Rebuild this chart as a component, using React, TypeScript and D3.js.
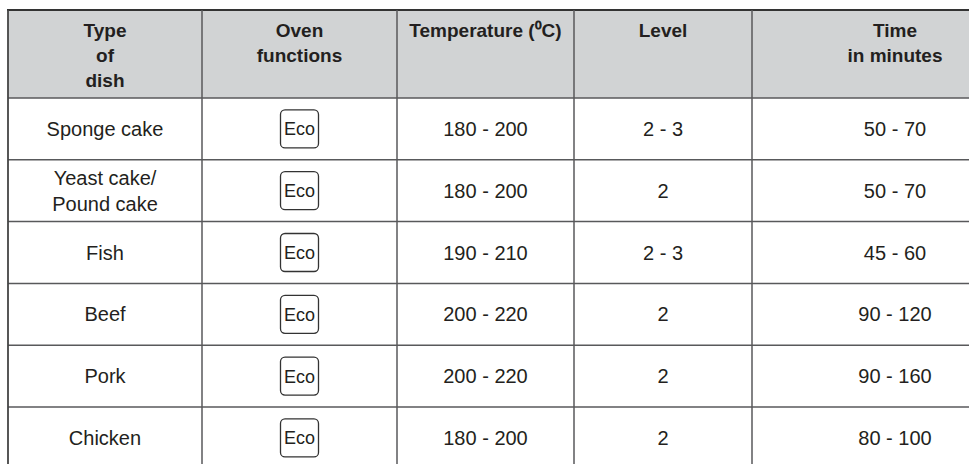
import React from "react";
import * as d3 from "d3";

const headers: string[][] = [
  ["Type", "of", "dish"],
  ["Oven", "functions"],
  ["Temperature (\u2070C)"],
  ["Level"],
  ["Time", "in minutes"],
];
const dishes: string[][] = [
  ["Sponge cake"],
  ["Yeast cake/", "Pound cake"],
  ["Fish"],
  ["Beef"],
  ["Pork"],
  ["Chicken"],
];
const ovenFunctions: string[] = ["Eco", "Eco", "Eco", "Eco", "Eco", "Eco"];
const temperatures: string[] = ["180 - 200", "180 - 200", "190 - 210", "200 - 220", "200 - 220", "180 - 200"];
const levels: string[] = ["2 - 3", "2", "2 - 3", "2", "2", "2"];
const times: string[] = ["50 - 70", "50 - 70", "45 - 60", "90 - 120", "90 - 160", "80 - 100"];

const W = 969;
const H = 464;
const colEdges = [8, 202, 397, 574, 752, 1038];
const headTop = 10;
const headBottom = 98;
const rowH = 61.8;
const FONT = "'Liberation Sans', Arial, Helvetica, sans-serif";
const TEXT = "#231f20";
const LINE = "#58595b";

export default function App() {
  const n = dishes.length;
  const y = d3
    .scaleBand<number>()
    .domain(d3.range(n))
    .range([headBottom, headBottom + rowH * n])
    .padding(0);
  const colCenter = (i: number) => (colEdges[i] + colEdges[i + 1]) / 2;
  const rows = d3.range(n).map((i) => ({
    cells: [dishes[i], [ovenFunctions[i]], [temperatures[i]], [levels[i]], [times[i]]],
  }));
  const lineH = 26;
  const bodySize = 20;
  const capHalf = bodySize * 0.716 / 2;

  return (
    <svg
      width={W}
      height={H}
      style={{ position: "absolute", left: 0, top: 0, background: "#fff" }}
      fontFamily={FONT}
    >
      {/* header background */}
      <rect x={colEdges[0]} y={headTop} width={colEdges[5] - colEdges[0]} height={headBottom - headTop} fill="#d1d3d4" />
      {/* header text */}
      {headers.map((lines, c) => (
        <text key={"h" + c} textAnchor="middle" fontWeight="bold" fontSize={19} fill={TEXT}>
          {lines.map((t, k) => (
            <tspan key={k} x={colCenter(c)} y={37 + k * 25}>
              {t}
            </tspan>
          ))}
        </text>
      ))}
      {/* body */}
      {rows.map((r, i) => {
        const cy = (y(i) as number) + y.bandwidth() / 2;
        return (
          <g key={"r" + i}>
            {r.cells.map((lines, c) => {
              if (c === 1) {
                const bw = 38;
                return (
                  <g key={c}>
                    <rect
                      x={colCenter(c) - bw / 2}
                      y={cy - bw / 2}
                      width={bw}
                      height={bw}
                      rx={4.5}
                      fill="none"
                      stroke="#333"
                      strokeWidth={1.3}
                    />
                    <text x={colCenter(c)} y={cy + 18 * 0.716 / 2} textAnchor="middle" fontSize={18} fill={TEXT}>
                      {lines[0]}
                    </text>
                  </g>
                );
              }
              const firstBase = cy + capHalf - ((lines.length - 1) * lineH) / 2;
              return (
                <text key={c} textAnchor="middle" fontSize={bodySize} fill={TEXT}>
                  {lines.map((t, k) => (
                    <tspan key={k} x={colCenter(c)} y={firstBase + k * lineH}>
                      {t}
                    </tspan>
                  ))}
                </text>
              );
            })}
          </g>
        );
      })}
      {/* horizontal lines */}
      {d3.range(n + 1).map((i) => {
        const yy = i < n ? (y(i) as number) : headBottom + rowH * n;
        return (
          <line key={"hl" + i} x1={colEdges[0]} x2={colEdges[5]} y1={yy} y2={yy} stroke={LINE} strokeWidth={1.5} />
        );
      })}
      <line x1={colEdges[0] - 1} x2={colEdges[5]} y1={headTop} y2={headTop} stroke="#333" strokeWidth={2} />
      {/* vertical lines */}
      {colEdges.map((x, i) => (
        <line
          key={"vl" + i}
          x1={x}
          x2={x}
          y1={headTop}
          y2={headBottom + rowH * n}
          stroke={i === 0 ? "#444" : LINE}
          strokeWidth={i === 0 ? 1.8 : 1.5}
        />
      ))}
    </svg>
  );
}
